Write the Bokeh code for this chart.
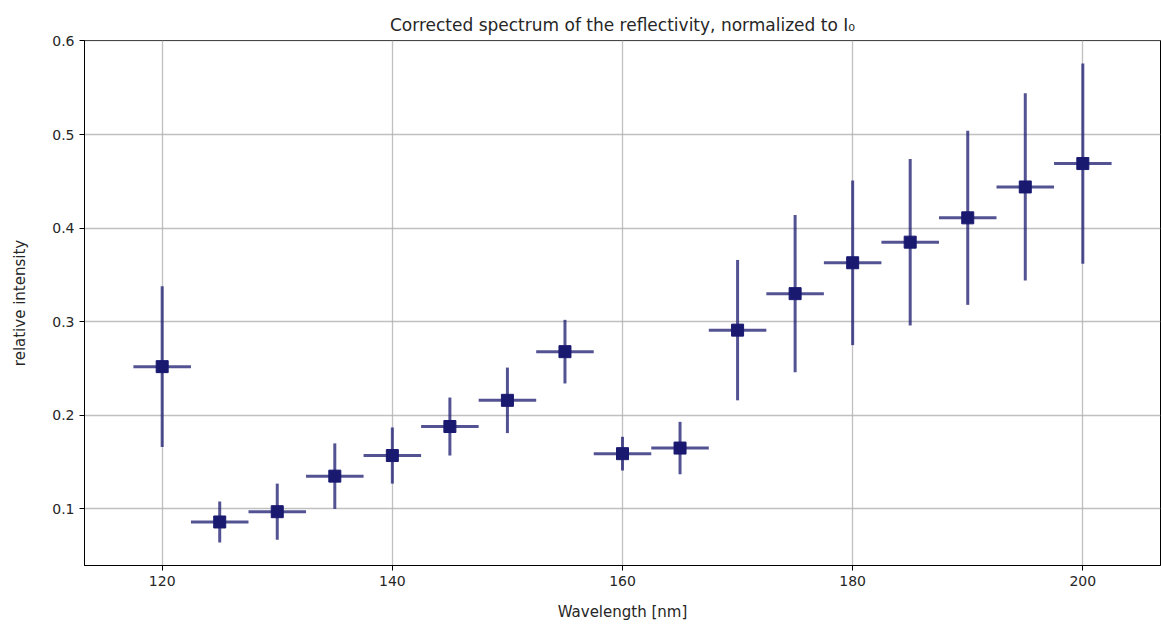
from bokeh.plotting import figure
from bokeh.embed import file_html
from bokeh.resources import INLINE
from bokeh.models import Range1d, FixedTicker, ColumnDataSource

wavelength = [120, 125, 130, 135, 140, 145, 150, 155, 160, 165, 170, 175, 180, 185, 190, 195, 200]
intensity = [0.252, 0.086, 0.097, 0.135, 0.157, 0.188, 0.216, 0.268, 0.159, 0.165, 0.291, 0.330, 0.363, 0.385, 0.411, 0.444, 0.469]
y_err = [0.086, 0.022, 0.030, 0.035, 0.030, 0.031, 0.035, 0.034, 0.018, 0.028, 0.075, 0.084, 0.088, 0.089, 0.093, 0.100, 0.107]
x_err = [2.5] * len(wavelength)
x_ticks = [120, 140, 160, 180, 200]
y_ticks = [0.1, 0.2, 0.3, 0.4, 0.5, 0.6]

src = ColumnDataSource(dict(
    x=wavelength, y=intensity,
    x0=[a - e for a, e in zip(wavelength, x_err)],
    x1=[a + e for a, e in zip(wavelength, x_err)],
    y0=[a - e for a, e in zip(intensity, y_err)],
    y1=[a + e for a, e in zip(intensity, y_err)],
))

p = figure(width=1161, height=623, output_backend="svg", toolbar_location=None,
           x_range=Range1d(113.25, 206.75), y_range=Range1d(0.0395, 0.6005),
           min_border_left=84, min_border_right=1, min_border_top=40, min_border_bottom=58)

p.title.text = "Corrected spectrum of the reflectivity, normalized to I\u2080"
p.title.align = "center"
p.title.text_font = "DejaVu Sans"
p.title.text_font_size = "17px"
p.title.text_font_style = "normal"
p.title.text_color = "#262626"
p.title.standoff = 12

p.background_fill_color = "white"
p.border_fill_color = "white"
p.outline_line_color = "black"
p.outline_line_width = 1

for ax in (p.xaxis[0], p.yaxis[0]):
    ax.axis_line_color = "black"
    ax.major_tick_line_color = "black"
    ax.major_tick_out = 5
    ax.major_tick_in = 0
    ax.minor_tick_line_color = None
    ax.major_label_text_font = "DejaVu Sans"
    ax.major_label_text_font_size = "14px"
    ax.major_label_text_color = "#262626"
    ax.axis_label_text_font = "DejaVu Sans"
    ax.axis_label_text_font_size = "15px"
    ax.axis_label_text_font_style = "normal"
    ax.axis_label_text_color = "#262626"

p.xaxis.ticker = FixedTicker(ticks=x_ticks)
p.yaxis.ticker = FixedTicker(ticks=y_ticks)
p.xaxis.axis_label = "Wavelength [nm]"
p.yaxis.axis_label = "relative intensity"
p.xaxis.axis_label_standoff = 14
p.yaxis.axis_label_standoff = 20

p.xgrid.ticker = FixedTicker(ticks=x_ticks)
p.ygrid.ticker = FixedTicker(ticks=y_ticks)
p.grid.grid_line_color = "#b0b0b0"
p.grid.grid_line_alpha = 0.8
p.grid.grid_line_width = 1.3

ecol = "#191970"
p.segment(x0="x0", y0="y", x1="x1", y1="y", source=src, line_color=ecol, line_alpha=0.75, line_width=3)
p.segment(x0="x", y0="y0", x1="x", y1="y1", source=src, line_color=ecol, line_alpha=0.75, line_width=3)
p.scatter(x="x", y="y", source=src, marker="square", size=12, fill_color=ecol, line_color=ecol)

open("out.html", "w").write(file_html(p, INLINE))
